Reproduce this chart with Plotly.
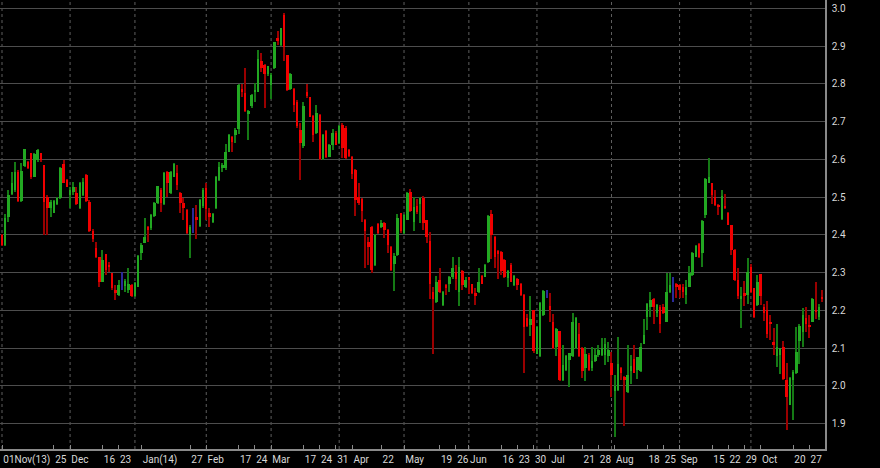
import pandas as pd
import plotly.graph_objects as go

# ---------------- data ----------------
holidays = ["2013-12-25", "2013-12-26", "2014-01-01", "2014-04-18",
            "2014-04-21", "2014-05-01", "2014-05-29"]

open_ = [
    2.400, 2.373, 2.448, 2.508, 2.519, 2.567, 2.490, 2.583, 2.593, 2.616,
    2.554, 2.598, 2.616, 2.585, 2.500, 2.470, 2.459, 2.481, 2.497, 2.588,
    2.545, 2.505, 2.514, 2.510, 2.470, 2.505, 2.558, 2.488, 2.411, 2.364,
    2.340, 2.276, 2.349, 2.318, 2.298, 2.254, 2.240, 2.265, 2.264, 2.254,
    2.267, 2.238, 2.263, 2.351, 2.379, 2.422, 2.417, 2.450, 2.483, 2.520,
    2.482, 2.567, 2.510, 2.554, 2.565, 2.510, 2.483, 2.467, 2.400, 2.440,
    2.448, 2.423, 2.475, 2.523, 2.457, 2.433, 2.470, 2.545, 2.578, 2.576,
    2.620, 2.660, 2.664, 2.680, 2.786, 2.775, 2.719, 2.740, 2.778, 2.779,
    2.861, 2.850, 2.825, 2.797, 2.841, 2.921, 2.903, 2.981, 2.875, 2.786,
    2.786, 2.751, 2.678, 2.634, 2.777, 2.765, 2.715, 2.669, 2.718, 2.600,
    2.674, 2.607, 2.638, 2.671, 2.643, 2.691, 2.682, 2.625, 2.607, 2.572,
    2.500, 2.494, 2.440, 2.380, 2.422, 2.320, 2.429, 2.422, 2.432, 2.413,
    2.369, 2.323, 2.347, 2.457, 2.405, 2.440, 2.513, 2.434, 2.475, 2.481,
    2.498, 2.438, 2.384, 2.249, 2.222, 2.280, 2.214, 2.267, 2.271, 2.289,
    2.302, 2.249, 2.304, 2.262, 2.287, 2.269, 2.246, 2.249, 2.290, 2.289,
    2.328, 2.454, 2.394, 2.357, 2.355, 2.334, 2.285, 2.320, 2.267, 2.282,
    2.270, 2.241, 2.179, 2.161, 2.200, 2.085, 2.078, 2.188, 2.246, 2.212,
    2.170, 2.104, 2.144, 2.016, 2.042, 2.069, 2.078, 2.100, 2.138, 2.100,
    2.047, 2.082, 2.047, 2.067, 2.082, 2.082, 2.082, 2.078, 2.060, 1.985,
    1.989, 2.048, 2.024, 1.984, 2.040, 2.070, 2.042, 2.040, 2.112, 2.183,
    2.209, 2.229, 2.192, 2.210, 2.210, 2.170, 2.249, 2.257, 2.271, 2.267,
    2.262, 2.240, 2.263, 2.293, 2.342, 2.375, 2.351, 2.452, 2.538, 2.536,
    2.500, 2.480, 2.441, 2.476, 2.459, 2.425, 2.359, 2.280, 2.231, 2.245,
    2.240, 2.315, 2.258, 2.214, 2.295, 2.209, 2.200, 2.170, 2.117, 2.080,
    2.082, 2.104, 2.015, 1.949, 2.015, 2.033, 2.118, 2.143, 2.180, 2.161,
    2.170, 2.200, 2.183, 2.236,
]
high = [
    2.402, 2.455, 2.519, 2.567, 2.594, 2.572, 2.589, 2.627, 2.596, 2.618,
    2.616, 2.627, 2.618, 2.585, 2.505, 2.492, 2.492, 2.499, 2.579, 2.598,
    2.547, 2.527, 2.541, 2.527, 2.541, 2.550, 2.560, 2.492, 2.415, 2.382,
    2.342, 2.360, 2.349, 2.329, 2.300, 2.267, 2.280, 2.302, 2.282, 2.311,
    2.271, 2.276, 2.346, 2.377, 2.444, 2.423, 2.455, 2.486, 2.530, 2.523,
    2.567, 2.570, 2.570, 2.589, 2.585, 2.514, 2.497, 2.469, 2.426, 2.470,
    2.479, 2.494, 2.523, 2.536, 2.470, 2.457, 2.557, 2.594, 2.590, 2.640,
    2.666, 2.663, 2.682, 2.800, 2.799, 2.841, 2.731, 2.772, 2.801, 2.890,
    2.881, 2.852, 2.848, 2.828, 2.912, 2.940, 2.949, 2.987, 2.876, 2.828,
    2.788, 2.757, 2.696, 2.753, 2.800, 2.766, 2.718, 2.744, 2.720, 2.667,
    2.678, 2.640, 2.680, 2.674, 2.691, 2.696, 2.687, 2.627, 2.609, 2.574,
    2.537, 2.497, 2.441, 2.395, 2.424, 2.402, 2.432, 2.438, 2.435, 2.415,
    2.371, 2.351, 2.455, 2.459, 2.455, 2.513, 2.522, 2.500, 2.496, 2.500,
    2.502, 2.440, 2.407, 2.262, 2.290, 2.311, 2.252, 2.269, 2.290, 2.340,
    2.319, 2.340, 2.308, 2.287, 2.289, 2.271, 2.258, 2.311, 2.293, 2.322,
    2.452, 2.465, 2.396, 2.359, 2.356, 2.336, 2.307, 2.325, 2.294, 2.285,
    2.272, 2.244, 2.191, 2.238, 2.201, 2.159, 2.223, 2.254, 2.254, 2.245,
    2.190, 2.153, 2.146, 2.108, 2.082, 2.088, 2.192, 2.182, 2.166, 2.102,
    2.102, 2.086, 2.102, 2.100, 2.108, 2.126, 2.126, 2.117, 2.090, 2.029,
    2.130, 2.050, 2.026, 2.108, 2.081, 2.108, 2.077, 2.114, 2.176, 2.220,
    2.249, 2.232, 2.217, 2.214, 2.217, 2.298, 2.298, 2.289, 2.273, 2.270,
    2.271, 2.280, 2.317, 2.355, 2.373, 2.377, 2.439, 2.550, 2.603, 2.538,
    2.518, 2.482, 2.518, 2.509, 2.460, 2.427, 2.362, 2.312, 2.262, 2.277,
    2.339, 2.324, 2.260, 2.293, 2.296, 2.218, 2.224, 2.187, 2.152, 2.165,
    2.101, 2.119, 2.060, 2.024, 2.042, 2.156, 2.163, 2.205, 2.209, 2.187,
    2.233, 2.274, 2.218, 2.253,
]
low = [
    2.370, 2.370, 2.435, 2.505, 2.514, 2.488, 2.488, 2.580, 2.574, 2.547,
    2.552, 2.594, 2.594, 2.400, 2.400, 2.446, 2.457, 2.479, 2.494, 2.536,
    2.526, 2.470, 2.505, 2.479, 2.468, 2.503, 2.488, 2.408, 2.382, 2.338,
    2.262, 2.274, 2.293, 2.302, 2.255, 2.227, 2.238, 2.254, 2.249, 2.245,
    2.236, 2.236, 2.261, 2.333, 2.378, 2.382, 2.414, 2.448, 2.481, 2.461,
    2.479, 2.501, 2.508, 2.552, 2.519, 2.457, 2.439, 2.402, 2.338, 2.404,
    2.388, 2.421, 2.472, 2.440, 2.422, 2.431, 2.469, 2.542, 2.567, 2.572,
    2.619, 2.620, 2.642, 2.668, 2.766, 2.726, 2.651, 2.737, 2.753, 2.778,
    2.832, 2.735, 2.822, 2.760, 2.839, 2.903, 2.901, 2.861, 2.782, 2.784,
    2.726, 2.682, 2.545, 2.629, 2.762, 2.712, 2.645, 2.667, 2.599, 2.599,
    2.603, 2.606, 2.625, 2.637, 2.641, 2.603, 2.600, 2.607, 2.547, 2.450,
    2.479, 2.435, 2.311, 2.320, 2.300, 2.318, 2.402, 2.417, 2.391, 2.353,
    2.305, 2.250, 2.345, 2.406, 2.403, 2.438, 2.460, 2.410, 2.456, 2.431,
    2.414, 2.377, 2.231, 2.084, 2.220, 2.246, 2.211, 2.240, 2.249, 2.284,
    2.253, 2.211, 2.253, 2.258, 2.244, 2.243, 2.214, 2.246, 2.269, 2.287,
    2.326, 2.337, 2.313, 2.284, 2.293, 2.286, 2.263, 2.274, 2.265, 2.254,
    2.238, 2.033, 2.155, 2.132, 2.086, 2.084, 2.076, 2.185, 2.232, 2.170,
    2.097, 2.078, 2.014, 2.014, 2.040, 1.996, 2.076, 2.097, 2.076, 2.020,
    2.014, 2.040, 2.040, 2.064, 2.076, 2.078, 2.056, 2.064, 1.970, 1.865,
    1.987, 2.015, 1.893, 1.982, 2.006, 2.033, 2.017, 2.037, 2.111, 2.148,
    2.183, 2.165, 2.183, 2.139, 2.190, 2.168, 2.245, 2.223, 2.232, 2.232,
    2.232, 2.218, 2.261, 2.291, 2.340, 2.338, 2.314, 2.444, 2.536, 2.482,
    2.476, 2.453, 2.438, 2.469, 2.425, 2.346, 2.277, 2.231, 2.152, 2.212,
    2.218, 2.247, 2.180, 2.212, 2.215, 2.171, 2.126, 2.121, 2.082, 2.051,
    2.030, 2.015, 1.883, 1.948, 1.910, 2.030, 2.059, 2.104, 2.143, 2.126,
    2.168, 2.178, 2.174, 2.222,
]
close = [
    2.373, 2.444, 2.505, 2.538, 2.566, 2.490, 2.569, 2.626, 2.576, 2.552,
    2.614, 2.624, 2.598, 2.488, 2.470, 2.488, 2.490, 2.497, 2.576, 2.538,
    2.527, 2.520, 2.527, 2.482, 2.538, 2.541, 2.490, 2.411, 2.388, 2.340,
    2.276, 2.333, 2.307, 2.315, 2.258, 2.245, 2.267, 2.265, 2.278, 2.271,
    2.238, 2.273, 2.344, 2.373, 2.395, 2.413, 2.452, 2.483, 2.528, 2.483,
    2.565, 2.536, 2.567, 2.588, 2.532, 2.483, 2.470, 2.404, 2.422, 2.440,
    2.439, 2.492, 2.520, 2.469, 2.446, 2.455, 2.554, 2.580, 2.585, 2.620,
    2.665, 2.647, 2.678, 2.797, 2.778, 2.728, 2.728, 2.771, 2.784, 2.866,
    2.841, 2.825, 2.846, 2.823, 2.910, 2.914, 2.947, 2.898, 2.784, 2.826,
    2.744, 2.687, 2.643, 2.740, 2.768, 2.713, 2.665, 2.722, 2.600, 2.665,
    2.606, 2.638, 2.669, 2.638, 2.687, 2.630, 2.603, 2.609, 2.561, 2.491,
    2.484, 2.462, 2.409, 2.369, 2.307, 2.400, 2.406, 2.431, 2.413, 2.373,
    2.307, 2.344, 2.444, 2.409, 2.452, 2.511, 2.463, 2.474, 2.460, 2.498,
    2.431, 2.394, 2.269, 2.229, 2.275, 2.249, 2.249, 2.260, 2.289, 2.313,
    2.284, 2.315, 2.267, 2.280, 2.280, 2.245, 2.237, 2.275, 2.271, 2.319,
    2.449, 2.399, 2.341, 2.348, 2.304, 2.289, 2.303, 2.276, 2.291, 2.267,
    2.241, 2.155, 2.159, 2.176, 2.091, 2.155, 2.220, 2.251, 2.246, 2.200,
    2.100, 2.150, 2.016, 2.056, 2.079, 2.087, 2.170, 2.179, 2.078, 2.038,
    2.083, 2.042, 2.065, 2.082, 2.095, 2.100, 2.111, 2.095, 2.028, 2.000,
    2.059, 2.033, 2.015, 2.029, 2.052, 2.035, 2.076, 2.104, 2.134, 2.217,
    2.227, 2.208, 2.214, 2.165, 2.192, 2.249, 2.267, 2.257, 2.261, 2.254,
    2.249, 2.261, 2.300, 2.351, 2.370, 2.342, 2.437, 2.547, 2.552, 2.505,
    2.479, 2.474, 2.503, 2.471, 2.427, 2.359, 2.280, 2.238, 2.238, 2.238,
    2.302, 2.249, 2.183, 2.274, 2.238, 2.192, 2.136, 2.165, 2.108, 2.104,
    2.099, 2.018, 1.971, 2.020, 2.037, 2.090, 2.159, 2.187, 2.163, 2.156,
    2.231, 2.196, 2.209, 2.230,
]

tick_dates = [
    "2013-11-01", "2013-11-25", "2013-12-02", "2013-12-16", "2013-12-23",
    "2014-01-06", "2014-01-27", "2014-02-03", "2014-02-17", "2014-02-24",
    "2014-03-03", "2014-03-17", "2014-03-24", "2014-03-31", "2014-04-07",
    "2014-04-22", "2014-05-02", "2014-05-19", "2014-05-26", "2014-06-02",
    "2014-06-16", "2014-06-23", "2014-06-30", "2014-07-07", "2014-07-21",
    "2014-07-28", "2014-08-04", "2014-08-18", "2014-08-25", "2014-09-01",
    "2014-09-15", "2014-09-22", "2014-09-29", "2014-10-06", "2014-10-20",
    "2014-10-27",
]
tick_text = [
    "01Nov(13)", "25", "Dec", "16", "23", "Jan(14)", "27", "Feb", "17", "24",
    "Mar", "17", "24", "31", "Apr", "22", "May", "19", "26", "Jun",
    "16", "23", "30", "Jul", "21", "28", "Aug", "18", "25", "Sep",
    "15", "22", "29", "Oct", "20", "27",
]
y_ticks = [1.9, 2.0, 2.1, 2.2, 2.3, 2.4, 2.5, 2.6, 2.7, 2.8, 2.9, 3.0]

# ---------------- trading calendar ----------------
days = pd.bdate_range("2013-11-01", "2014-10-31")
days = days[~days.isin(pd.to_datetime(holidays))]
dates = days.strftime("%Y-%m-%d").tolist()
n = min(len(dates), len(open_))
dates = dates[:n]

month_starts = (pd.Series(days[:n]).groupby(days[:n].to_period("M")).first()
                .dt.strftime("%Y-%m-%d").tolist())

# ---------------- styling ----------------
UP_BODY, DN_BODY = "#22a822", "#f00000"
UP_WICK, DN_WICK, DOJI = "#157a15", "#9a0000", "#2a2a9a"

body_base, body_len, body_col, wick_col = [], [], [], []
for o, c in zip(open_[:n], close[:n]):
    body_base.append(min(o, c))
    body_len.append(abs(c - o))
    if c > o:
        body_col.append(UP_BODY); wick_col.append(UP_WICK)
    elif c < o:
        body_col.append(DN_BODY); wick_col.append(DN_WICK)
    else:
        body_col.append(DOJI); wick_col.append(DOJI)

fig = go.Figure()
fig.add_trace(go.Bar(
    x=dates, base=low[:n], y=[h - l for h, l in zip(high[:n], low[:n])],
    width=0.36, marker=dict(color=wick_col, line=dict(width=0)),
    hoverinfo="skip", showlegend=False))
fig.add_trace(go.Bar(
    x=dates, base=body_base, y=body_len,
    width=0.76, marker=dict(color=body_col, line=dict(width=0)),
    customdata=list(zip(open_[:n], high[:n], low[:n], close[:n])),
    hovertemplate="%{x}<br>O %{customdata[0]}<br>H %{customdata[1]}"
                  "<br>L %{customdata[2]}<br>C %{customdata[3]}<extra></extra>",
    showlegend=False))

for d in month_starts:
    fig.add_shape(type="line", xref="x", yref="paper", x0=d, x1=d, y0=0, y1=1,
                  line=dict(color="#5e5e5e", width=1, dash="dot"), layer="below")

fig.update_layout(
    width=880, height=468,
    margin=dict(l=0, r=55, t=0, b=19),
    paper_bgcolor="#000000", plot_bgcolor="#000000",
    barmode="overlay", bargap=0,
    font=dict(family="Roboto, Arial, sans-serif", size=10, color="#d8d8d8"),
    xaxis=dict(
        type="category", categoryorder="array", categoryarray=dates,
        range=[-0.62, n - 1 + 0.85],
        tickmode="array", tickvals=tick_dates, ticktext=tick_text,
        ticklabelposition="outside right", tickangle=0, automargin=False,
        ticks="inside", ticklen=4, tickcolor="#8a8a8a", tickwidth=1,
        showgrid=False, zeroline=False,
        showline=True, linecolor="#8a8a8a", linewidth=1.5,
        tickfont=dict(size=10, color="#d8d8d8"),
        fixedrange=True,
    ),
    yaxis=dict(
        side="right", range=[1.8326, 3.022], automargin=False,
        tickmode="array", tickvals=y_ticks,
        ticktext=[f"{v:.1f}" for v in y_ticks],
        showgrid=True, gridcolor="#4d4d4d", gridwidth=1,
        zeroline=False, showline=True, linecolor="#8a8a8a", linewidth=1.5,
        ticks="", ticklabelstandoff=3,
        tickfont=dict(size=10, color="#d8d8d8"),
        fixedrange=True,
    ),
)

fig.write_html(
    "out.html",
    config={"displayModeBar": False},
    post_script="document.body.style.margin='0';document.body.style.background='#000';",
)
